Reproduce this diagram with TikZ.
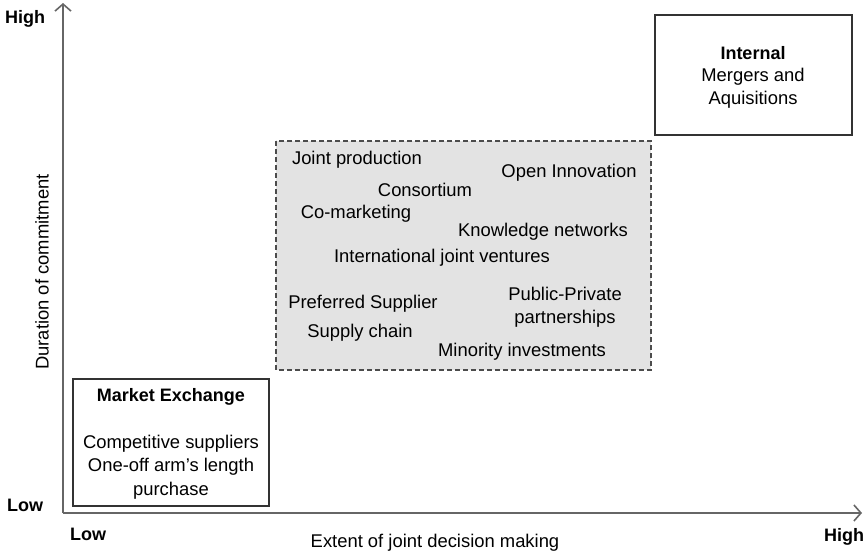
\documentclass[tikz,border=0pt]{standalone}
\usepackage{fontspec}
\setmainfont{Liberation Sans}
\usepackage{tikz}
\usetikzlibrary{arrows.meta}

\begin{document}
\begin{tikzpicture}[x=1pt, y=-1pt,
  lbl/.style={font=\fontsize{18.4}{23.5}\selectfont, inner sep=0pt, align=center},
  axlbl/.style={font=\fontsize{18}{23}\selectfont\bfseries, inner sep=0pt},
  box/.style={draw=black!80, line width=1.6},
  axis/.style={draw=black!60, line width=2, -{Straight Barb[length=7pt, width=16pt, line width=1.6]}}]

\useasboundingbox (0,0) rectangle (867,557);

% axes

\coordinate (origin) at (63,513);
\coordinate (ytop) at (63,3);
\coordinate (xend) at (862,513);

\draw [axis] (origin) -- (ytop);
\draw [axis] (origin) -- (xend);

\node[axlbl] (yhigh) at (25,19) {High};
\node[axlbl] (ylow) at (25,505) {Low};
\node[axlbl] (xlow) at (88,534) {Low};
\node[axlbl] (xhigh) at (844,537) {High};

\node[lbl, rotate=90] (ytitle) at (42,272) {Duration of commitment};
\node[lbl] (xtitle) at (435,543) {Extent of joint decision making};

% boxes

\draw [box] (73,379) rectangle (269,506);
\draw [box] (655,15) rectangle (852,135);
\draw [draw=black!70, fill=black!11, line width=1.4, dash pattern=on 5pt off 3pt] (276,141) rectangle (651,370);

% market exchange

\node[lbl, font=\fontsize{18}{23}\selectfont\bfseries] (market) at (171,397) {Market Exchange};
\node[lbl] (comp) at (171,467) {Competitive suppliers\\One-off arm's length\\purchase};

% internal

\node[lbl, font=\fontsize{18}{23}\selectfont\bfseries] (internal) at (753,53) {Internal};
\node[lbl] (mergers) at (753,88) {Mergers and\\Aquisitions};

% hybrid forms

\node[lbl] (jointprod) at (357,160) {Joint production};
\node[lbl] (openinno) at (569,173) {Open Innovation};
\node[lbl] (consort) at (425,190) {Consortium};
\node[lbl] (comark) at (356,214) {Co-marketing};
\node[lbl] (knowledge) at (543,232) {Knowledge networks};
\node[lbl] (intjv) at (442,258) {International joint ventures};
\node[lbl] (preferred) at (363,304) {Preferred Supplier};
\node[lbl] (ppp) at (565,307) {Public-Private\\partnerships};
\node[lbl] (supply) at (360,333) {Supply chain};
\node[lbl] (minority) at (522,352) {Minority investments};

\end{tikzpicture}
\end{document}
